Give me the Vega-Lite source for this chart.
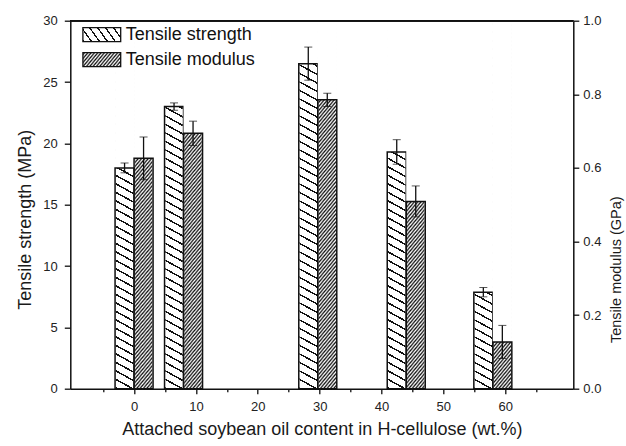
{
  "$schema": "https://vega.github.io/schema/vega-lite/v6.json",
  "width": 503,
  "height": 368,
  "autosize": {"type": "none"},
  "padding": {"left": 70.3, "top": 20.7, "right": 52.7, "bottom": 57.3},
  "background": "white",
  "config": {
    "view": {"stroke": null},
    "font": "Liberation Sans",
    "axis": {
      "grid": false,
      "zindex": 1,
      "domainColor": "#111",
      "domainWidth": 1.5,
      "tickColor": "#111",
      "tickWidth": 1.3,
      "labelFont": "Liberation Sans",
      "labelFontSize": 13,
      "labelColor": "#222",
      "labelOverlap": false,
      "labelBound": false,
      "titleFont": "Liberation Sans",
      "titleFontWeight": "normal",
      "titleColor": "#1a1a1a"
    }
  },
  "data": {
    "values": [
      {"oil": 0, "ts": 18.0, "tsErr": 0.4, "tm": 0.626, "tmErr": 0.058},
      {"oil": 8, "ts": 23.0, "tsErr": 0.3, "tm": 0.694, "tmErr": 0.033},
      {"oil": 29.7, "ts": 26.5, "tsErr": 1.35, "tm": 0.785, "tmErr": 0.018},
      {"oil": 44, "ts": 19.3, "tsErr": 1.0, "tm": 0.509, "tmErr": 0.042},
      {"oil": 58, "ts": 7.87, "tsErr": 0.38, "tm": 0.127, "tmErr": 0.045}
    ]
  },
  "layer": [
    {
      "encoding": {
        "x": {
          "field": "oil", "type": "quantitative",
          "scale": {"domain": [-9.5, 70.2], "nice": false, "zero": false},
          "axis": {
            "values": [-5, 0, 5, 10, 15, 20, 25, 30, 35, 40, 45, 50, 55, 60, 65],
            "labelExpr": "datum.value % 10 === 0 ? datum.label : ''",
            "tickSize": {"condition": {"test": "datum.value % 10 !== 0", "value": 3}, "value": 5},
            "labelPadding": 7,
            "title": "Attached soybean oil content in H-cellulose (wt.%)",
            "titleFontSize": 18,
            "titlePadding": 7
          }
        }
      },
      "layer": [
        {
          "mark": {"type": "bar", "width": 17.5, "xOffset": -9.5, "stroke": null,
            "fill": {"gradient": "linear", "x1": 0, "y1": 1, "x2": 0.030186, "y2": -0.154111, "stops": [
              {"offset":0,"color":"#111"},{"offset":0.004,"color":"#111"},{"offset":0.004,"color":"#fff"},{"offset":0.02,"color":"#fff"},
              {"offset":0.02,"color":"#111"},{"offset":0.024,"color":"#111"},{"offset":0.024,"color":"#fff"},{"offset":0.04,"color":"#fff"},
              {"offset":0.04,"color":"#111"},{"offset":0.044,"color":"#111"},{"offset":0.044,"color":"#fff"},{"offset":0.06,"color":"#fff"},
              {"offset":0.06,"color":"#111"},{"offset":0.064,"color":"#111"},{"offset":0.064,"color":"#fff"},{"offset":0.08,"color":"#fff"},
              {"offset":0.08,"color":"#111"},{"offset":0.084,"color":"#111"},{"offset":0.084,"color":"#fff"},{"offset":0.1,"color":"#fff"},
              {"offset":0.1,"color":"#111"},{"offset":0.104,"color":"#111"},{"offset":0.104,"color":"#fff"},{"offset":0.12,"color":"#fff"},
              {"offset":0.12,"color":"#111"},{"offset":0.124,"color":"#111"},{"offset":0.124,"color":"#fff"},{"offset":0.14,"color":"#fff"},
              {"offset":0.14,"color":"#111"},{"offset":0.144,"color":"#111"},{"offset":0.144,"color":"#fff"},{"offset":0.16,"color":"#fff"},
              {"offset":0.16,"color":"#111"},{"offset":0.164,"color":"#111"},{"offset":0.164,"color":"#fff"},{"offset":0.18,"color":"#fff"},
              {"offset":0.18,"color":"#111"},{"offset":0.184,"color":"#111"},{"offset":0.184,"color":"#fff"},{"offset":0.2,"color":"#fff"},
              {"offset":0.2,"color":"#111"},{"offset":0.204,"color":"#111"},{"offset":0.204,"color":"#fff"},{"offset":0.22,"color":"#fff"},
              {"offset":0.22,"color":"#111"},{"offset":0.224,"color":"#111"},{"offset":0.224,"color":"#fff"},{"offset":0.24,"color":"#fff"},
              {"offset":0.24,"color":"#111"},{"offset":0.244,"color":"#111"},{"offset":0.244,"color":"#fff"},{"offset":0.26,"color":"#fff"},
              {"offset":0.26,"color":"#111"},{"offset":0.264,"color":"#111"},{"offset":0.264,"color":"#fff"},{"offset":0.28,"color":"#fff"},
              {"offset":0.28,"color":"#111"},{"offset":0.284,"color":"#111"},{"offset":0.284,"color":"#fff"},{"offset":0.3,"color":"#fff"},
              {"offset":0.3,"color":"#111"},{"offset":0.304,"color":"#111"},{"offset":0.304,"color":"#fff"},{"offset":0.32,"color":"#fff"},
              {"offset":0.32,"color":"#111"},{"offset":0.324,"color":"#111"},{"offset":0.324,"color":"#fff"},{"offset":0.34,"color":"#fff"},
              {"offset":0.34,"color":"#111"},{"offset":0.344,"color":"#111"},{"offset":0.344,"color":"#fff"},{"offset":0.36,"color":"#fff"},
              {"offset":0.36,"color":"#111"},{"offset":0.364,"color":"#111"},{"offset":0.364,"color":"#fff"},{"offset":0.38,"color":"#fff"},
              {"offset":0.38,"color":"#111"},{"offset":0.384,"color":"#111"},{"offset":0.384,"color":"#fff"},{"offset":0.4,"color":"#fff"},
              {"offset":0.4,"color":"#111"},{"offset":0.404,"color":"#111"},{"offset":0.404,"color":"#fff"},{"offset":0.42,"color":"#fff"},
              {"offset":0.42,"color":"#111"},{"offset":0.424,"color":"#111"},{"offset":0.424,"color":"#fff"},{"offset":0.44,"color":"#fff"},
              {"offset":0.44,"color":"#111"},{"offset":0.444,"color":"#111"},{"offset":0.444,"color":"#fff"},{"offset":0.46,"color":"#fff"},
              {"offset":0.46,"color":"#111"},{"offset":0.464,"color":"#111"},{"offset":0.464,"color":"#fff"},{"offset":0.48,"color":"#fff"},
              {"offset":0.48,"color":"#111"},{"offset":0.484,"color":"#111"},{"offset":0.484,"color":"#fff"},{"offset":0.5,"color":"#fff"},
              {"offset":0.5,"color":"#111"},{"offset":0.504,"color":"#111"},{"offset":0.504,"color":"#fff"},{"offset":0.52,"color":"#fff"},
              {"offset":0.52,"color":"#111"},{"offset":0.524,"color":"#111"},{"offset":0.524,"color":"#fff"},{"offset":0.54,"color":"#fff"},
              {"offset":0.54,"color":"#111"},{"offset":0.544,"color":"#111"},{"offset":0.544,"color":"#fff"},{"offset":0.56,"color":"#fff"},
              {"offset":0.56,"color":"#111"},{"offset":0.564,"color":"#111"},{"offset":0.564,"color":"#fff"},{"offset":0.58,"color":"#fff"},
              {"offset":0.58,"color":"#111"},{"offset":0.584,"color":"#111"},{"offset":0.584,"color":"#fff"},{"offset":0.6,"color":"#fff"},
              {"offset":0.6,"color":"#111"},{"offset":0.604,"color":"#111"},{"offset":0.604,"color":"#fff"},{"offset":0.62,"color":"#fff"},
              {"offset":0.62,"color":"#111"},{"offset":0.624,"color":"#111"},{"offset":0.624,"color":"#fff"},{"offset":0.64,"color":"#fff"},
              {"offset":0.64,"color":"#111"},{"offset":0.644,"color":"#111"},{"offset":0.644,"color":"#fff"},{"offset":0.66,"color":"#fff"},
              {"offset":0.66,"color":"#111"},{"offset":0.664,"color":"#111"},{"offset":0.664,"color":"#fff"},{"offset":0.68,"color":"#fff"},
              {"offset":0.68,"color":"#111"},{"offset":0.684,"color":"#111"},{"offset":0.684,"color":"#fff"},{"offset":0.7,"color":"#fff"},
              {"offset":0.7,"color":"#111"},{"offset":0.704,"color":"#111"},{"offset":0.704,"color":"#fff"},{"offset":0.72,"color":"#fff"},
              {"offset":0.72,"color":"#111"},{"offset":0.724,"color":"#111"},{"offset":0.724,"color":"#fff"},{"offset":0.74,"color":"#fff"},
              {"offset":0.74,"color":"#111"},{"offset":0.744,"color":"#111"},{"offset":0.744,"color":"#fff"},{"offset":0.76,"color":"#fff"},
              {"offset":0.76,"color":"#111"},{"offset":0.764,"color":"#111"},{"offset":0.764,"color":"#fff"},{"offset":0.78,"color":"#fff"},
              {"offset":0.78,"color":"#111"},{"offset":0.784,"color":"#111"},{"offset":0.784,"color":"#fff"},{"offset":0.8,"color":"#fff"},
              {"offset":0.8,"color":"#111"},{"offset":0.804,"color":"#111"},{"offset":0.804,"color":"#fff"},{"offset":0.82,"color":"#fff"},
              {"offset":0.82,"color":"#111"},{"offset":0.824,"color":"#111"},{"offset":0.824,"color":"#fff"},{"offset":0.84,"color":"#fff"},
              {"offset":0.84,"color":"#111"},{"offset":0.844,"color":"#111"},{"offset":0.844,"color":"#fff"},{"offset":0.86,"color":"#fff"},
              {"offset":0.86,"color":"#111"},{"offset":0.864,"color":"#111"},{"offset":0.864,"color":"#fff"},{"offset":0.88,"color":"#fff"},
              {"offset":0.88,"color":"#111"},{"offset":0.884,"color":"#111"},{"offset":0.884,"color":"#fff"},{"offset":0.9,"color":"#fff"}
            ]}},
          "encoding": {
            "y": {"datum": 0, "type": "quantitative", "scale": {"domain": [0, 30], "nice": false},
              "axis": {
                "orient": "left",
                "values": [0, 2.5, 5, 7.5, 10, 12.5, 15, 17.5, 20, 22.5, 25, 27.5, 30],
                "labelExpr": "datum.value % 5 === 0 ? datum.label : ''",
                "tickSize": {"condition": {"test": "datum.value % 5 !== 0", "value": 3.5}, "value": 6},
                "labelPadding": 7,
                "title": "Tensile strength (MPa)",
                "titleFontSize": 18,
                "titleAngle": 270,
                "titleAlign": "center",
                "titleBaseline": "middle",
                "titleX": -45.3,
                "titleY": 198.5
              }},
            "y2": {"datum": 30}
          }
        },
        {
          "mark": {"type": "bar", "width": 19, "xOffset": -9.5, "fill": "white", "stroke": null},
          "encoding": {
            "y": {"field": "ts", "type": "quantitative", "title": "Tensile strength (MPa)"},
            "y2": {"datum": 30}
          }
        },
        {
          "mark": {"type": "bar", "width": 19, "xOffset": -9.5, "fill": "transparent", "strokeWidth": 1.5},
          "encoding": {
            "y": {"field": "ts", "type": "quantitative", "title": "Tensile strength (MPa)"},
            "stroke": {
              "datum": "Tensile strength", "type": "nominal",
              "scale": {"domain": ["Tensile strength", "Tensile modulus"], "range": ["#111", "#111"]},
              "legend": {
                "orient": "none",
                "legendX": 22.5,
                "legendY": 5,
                "zindex": 1,
                "title": null,
                "padding": 0,
                "symbolType": "M-2.7,-1H2.7V1H-2.7Z",
                "symbolSize": 196,
                "symbolStrokeWidth": 1.3,
                "labelFont": "Liberation Sans",
                "labelFontSize": 18,
                "labelColor": "#111",
                "labelOffset": 15,
                "rowPadding": 5,
                "encoding": {
                  "symbols": {
                    "fill": {
                      "condition": {
                        "test": "datum.value === 'Tensile strength'",
                        "value": {"gradient": "linear", "x1": 0, "y1": 1, "x2": 1.96888, "y2": 0.48187, "stops": [
                          {"offset":0,"color":"#111"},{"offset":0.02,"color":"#111"},{"offset":0.02,"color":"#fff"},{"offset":0.1,"color":"#fff"},
                          {"offset":0.1,"color":"#111"},{"offset":0.12,"color":"#111"},{"offset":0.12,"color":"#fff"},{"offset":0.2,"color":"#fff"},
                          {"offset":0.2,"color":"#111"},{"offset":0.22,"color":"#111"},{"offset":0.22,"color":"#fff"},{"offset":0.3,"color":"#fff"},
                          {"offset":0.3,"color":"#111"},{"offset":0.32,"color":"#111"},{"offset":0.32,"color":"#fff"},{"offset":0.4,"color":"#fff"},
                          {"offset":0.4,"color":"#111"},{"offset":0.42,"color":"#111"},{"offset":0.42,"color":"#fff"},{"offset":0.5,"color":"#fff"},
                          {"offset":0.5,"color":"#111"},{"offset":0.52,"color":"#111"},{"offset":0.52,"color":"#fff"},{"offset":0.6,"color":"#fff"}
                        ]}
                      },
                      "value": {"gradient": "linear", "x1": 0, "y1": 0, "x2": 1.60325, "y2": 0.49223, "stops": [
                        {"offset":0,"color":"#fff"},{"offset":0.025,"color":"#111"},{"offset":0.05,"color":"#fff"},{"offset":0.075,"color":"#111"},
                        {"offset":0.1,"color":"#fff"},{"offset":0.125,"color":"#111"},{"offset":0.15,"color":"#fff"},{"offset":0.175,"color":"#111"},
                        {"offset":0.2,"color":"#fff"},{"offset":0.225,"color":"#111"},{"offset":0.25,"color":"#fff"},{"offset":0.275,"color":"#111"},
                        {"offset":0.3,"color":"#fff"},{"offset":0.325,"color":"#111"},{"offset":0.35,"color":"#fff"},{"offset":0.375,"color":"#111"},
                        {"offset":0.4,"color":"#fff"},{"offset":0.425,"color":"#111"},{"offset":0.45,"color":"#fff"},{"offset":0.475,"color":"#111"},
                        {"offset":0.5,"color":"#fff"},{"offset":0.525,"color":"#111"},{"offset":0.55,"color":"#fff"},{"offset":0.575,"color":"#111"},
                        {"offset":0.6,"color":"#fff"},{"offset":0.625,"color":"#111"},{"offset":0.65,"color":"#fff"},{"offset":0.675,"color":"#111"},
                        {"offset":0.7,"color":"#fff"},{"offset":0.725,"color":"#111"},{"offset":0.75,"color":"#fff"}
                      ]}
                    }
                  }
                }
              }
            }
          }
        },
        {
          "mark": {"type": "errorbar",
            "ticks": {"xOffset": -9.5, "size": 8, "color": "#111", "strokeWidth": 1.3},
            "rule": {"xOffset": -9.5, "color": "#111", "strokeWidth": 1.3}},
          "encoding": {
            "y": {"field": "ts", "type": "quantitative", "title": "Tensile strength (MPa)"},
            "yError": {"field": "tsErr"}
          }
        }
      ]
    },
    {
      "layer": [
        {
          "encoding": {
            "x": {
              "field": "oil", "type": "quantitative",
              "scale": {"domain": [-9.5, 70.2], "nice": false, "zero": false},
              "axis": {
                "values": [-5, 0, 5, 10, 15, 20, 25, 30, 35, 40, 45, 50, 55, 60, 65],
                "labelExpr": "datum.value % 10 === 0 ? datum.label : ''",
                "tickSize": {"condition": {"test": "datum.value % 10 !== 0", "value": 3}, "value": 5},
                "labelPadding": 7,
                "title": "Attached soybean oil content in H-cellulose (wt.%)",
                "titleFontSize": 18,
                "titlePadding": 7
              }
            }
          },
          "layer": [
            {
              "mark": {"type": "bar", "width": 17.5, "xOffset": 9.5, "stroke": null,
                "fill": {"gradient": "linear", "x1": 0, "y1": 0, "x2": 0.061826, "y2": 1.083429, "stops": [
                  {"offset":0,"color":"#fff"},{"offset":0.005,"color":"#111"},{"offset":0.01,"color":"#fff"},{"offset":0.015,"color":"#111"},
                  {"offset":0.02,"color":"#fff"},{"offset":0.025,"color":"#111"},{"offset":0.03,"color":"#fff"},{"offset":0.035,"color":"#111"},
                  {"offset":0.04,"color":"#fff"},{"offset":0.045,"color":"#111"},{"offset":0.05,"color":"#fff"},{"offset":0.055,"color":"#111"},
                  {"offset":0.06,"color":"#fff"},{"offset":0.065,"color":"#111"},{"offset":0.07,"color":"#fff"},{"offset":0.075,"color":"#111"},
                  {"offset":0.08,"color":"#fff"},{"offset":0.085,"color":"#111"},{"offset":0.09,"color":"#fff"},{"offset":0.095,"color":"#111"},
                  {"offset":0.1,"color":"#fff"},{"offset":0.105,"color":"#111"},{"offset":0.11,"color":"#fff"},{"offset":0.115,"color":"#111"},
                  {"offset":0.12,"color":"#fff"},{"offset":0.125,"color":"#111"},{"offset":0.13,"color":"#fff"},{"offset":0.135,"color":"#111"},
                  {"offset":0.14,"color":"#fff"},{"offset":0.145,"color":"#111"},{"offset":0.15,"color":"#fff"},{"offset":0.155,"color":"#111"},
                  {"offset":0.16,"color":"#fff"},{"offset":0.165,"color":"#111"},{"offset":0.17,"color":"#fff"},{"offset":0.175,"color":"#111"},
                  {"offset":0.18,"color":"#fff"},{"offset":0.185,"color":"#111"},{"offset":0.19,"color":"#fff"},{"offset":0.195,"color":"#111"},
                  {"offset":0.2,"color":"#fff"},{"offset":0.205,"color":"#111"},{"offset":0.21,"color":"#fff"},{"offset":0.215,"color":"#111"},
                  {"offset":0.22,"color":"#fff"},{"offset":0.225,"color":"#111"},{"offset":0.23,"color":"#fff"},{"offset":0.235,"color":"#111"},
                  {"offset":0.24,"color":"#fff"},{"offset":0.245,"color":"#111"},{"offset":0.25,"color":"#fff"},{"offset":0.255,"color":"#111"},
                  {"offset":0.26,"color":"#fff"},{"offset":0.265,"color":"#111"},{"offset":0.27,"color":"#fff"},{"offset":0.275,"color":"#111"},
                  {"offset":0.28,"color":"#fff"},{"offset":0.285,"color":"#111"},{"offset":0.29,"color":"#fff"},{"offset":0.295,"color":"#111"},
                  {"offset":0.3,"color":"#fff"},{"offset":0.305,"color":"#111"},{"offset":0.31,"color":"#fff"},{"offset":0.315,"color":"#111"},
                  {"offset":0.32,"color":"#fff"},{"offset":0.325,"color":"#111"},{"offset":0.33,"color":"#fff"},{"offset":0.335,"color":"#111"},
                  {"offset":0.34,"color":"#fff"},{"offset":0.345,"color":"#111"},{"offset":0.35,"color":"#fff"},{"offset":0.355,"color":"#111"},
                  {"offset":0.36,"color":"#fff"},{"offset":0.365,"color":"#111"},{"offset":0.37,"color":"#fff"},{"offset":0.375,"color":"#111"},
                  {"offset":0.38,"color":"#fff"},{"offset":0.385,"color":"#111"},{"offset":0.39,"color":"#fff"},{"offset":0.395,"color":"#111"},
                  {"offset":0.4,"color":"#fff"},{"offset":0.405,"color":"#111"},{"offset":0.41,"color":"#fff"},{"offset":0.415,"color":"#111"},
                  {"offset":0.42,"color":"#fff"},{"offset":0.425,"color":"#111"},{"offset":0.43,"color":"#fff"},{"offset":0.435,"color":"#111"},
                  {"offset":0.44,"color":"#fff"},{"offset":0.445,"color":"#111"},{"offset":0.45,"color":"#fff"},{"offset":0.455,"color":"#111"},
                  {"offset":0.46,"color":"#fff"},{"offset":0.465,"color":"#111"},{"offset":0.47,"color":"#fff"},{"offset":0.475,"color":"#111"},
                  {"offset":0.48,"color":"#fff"},{"offset":0.485,"color":"#111"},{"offset":0.49,"color":"#fff"},{"offset":0.495,"color":"#111"},
                  {"offset":0.5,"color":"#fff"},{"offset":0.505,"color":"#111"},{"offset":0.51,"color":"#fff"},{"offset":0.515,"color":"#111"},
                  {"offset":0.52,"color":"#fff"},{"offset":0.525,"color":"#111"},{"offset":0.53,"color":"#fff"},{"offset":0.535,"color":"#111"},
                  {"offset":0.54,"color":"#fff"},{"offset":0.545,"color":"#111"},{"offset":0.55,"color":"#fff"},{"offset":0.555,"color":"#111"},
                  {"offset":0.56,"color":"#fff"},{"offset":0.565,"color":"#111"},{"offset":0.57,"color":"#fff"},{"offset":0.575,"color":"#111"},
                  {"offset":0.58,"color":"#fff"},{"offset":0.585,"color":"#111"},{"offset":0.59,"color":"#fff"},{"offset":0.595,"color":"#111"},
                  {"offset":0.6,"color":"#fff"},{"offset":0.605,"color":"#111"},{"offset":0.61,"color":"#fff"},{"offset":0.615,"color":"#111"},
                  {"offset":0.62,"color":"#fff"},{"offset":0.625,"color":"#111"},{"offset":0.63,"color":"#fff"},{"offset":0.635,"color":"#111"},
                  {"offset":0.64,"color":"#fff"},{"offset":0.645,"color":"#111"},{"offset":0.65,"color":"#fff"},{"offset":0.655,"color":"#111"},
                  {"offset":0.66,"color":"#fff"},{"offset":0.665,"color":"#111"},{"offset":0.67,"color":"#fff"},{"offset":0.675,"color":"#111"},
                  {"offset":0.68,"color":"#fff"},{"offset":0.685,"color":"#111"},{"offset":0.69,"color":"#fff"},{"offset":0.695,"color":"#111"},
                  {"offset":0.7,"color":"#fff"},{"offset":0.705,"color":"#111"},{"offset":0.71,"color":"#fff"},{"offset":0.715,"color":"#111"},
                  {"offset":0.72,"color":"#fff"},{"offset":0.725,"color":"#111"},{"offset":0.73,"color":"#fff"},{"offset":0.735,"color":"#111"},
                  {"offset":0.74,"color":"#fff"},{"offset":0.745,"color":"#111"},{"offset":0.75,"color":"#fff"},{"offset":0.755,"color":"#111"},
                  {"offset":0.76,"color":"#fff"},{"offset":0.765,"color":"#111"},{"offset":0.77,"color":"#fff"},{"offset":0.775,"color":"#111"},
                  {"offset":0.78,"color":"#fff"},{"offset":0.785,"color":"#111"},{"offset":0.79,"color":"#fff"},{"offset":0.795,"color":"#111"},
                  {"offset":0.8,"color":"#fff"},{"offset":0.805,"color":"#111"},{"offset":0.81,"color":"#fff"},{"offset":0.815,"color":"#111"},
                  {"offset":0.82,"color":"#fff"},{"offset":0.825,"color":"#111"},{"offset":0.83,"color":"#fff"},{"offset":0.835,"color":"#111"},
                  {"offset":0.84,"color":"#fff"},{"offset":0.845,"color":"#111"},{"offset":0.85,"color":"#fff"},{"offset":0.855,"color":"#111"},
                  {"offset":0.86,"color":"#fff"},{"offset":0.865,"color":"#111"},{"offset":0.87,"color":"#fff"},{"offset":0.875,"color":"#111"},
                  {"offset":0.88,"color":"#fff"},{"offset":0.885,"color":"#111"},{"offset":0.89,"color":"#fff"},{"offset":0.895,"color":"#111"},
                  {"offset":0.9,"color":"#fff"},{"offset":0.905,"color":"#111"},{"offset":0.91,"color":"#fff"},{"offset":0.915,"color":"#111"},
                  {"offset":0.92,"color":"#fff"},{"offset":0.925,"color":"#111"},{"offset":0.93,"color":"#fff"},{"offset":0.935,"color":"#111"},
                  {"offset":0.94,"color":"#fff"},{"offset":0.945,"color":"#111"},{"offset":0.95,"color":"#fff"},{"offset":0.955,"color":"#111"},
                  {"offset":0.96,"color":"#fff"},{"offset":0.965,"color":"#111"},{"offset":0.97,"color":"#fff"},{"offset":0.975,"color":"#111"},
                  {"offset":0.98,"color":"#fff"}
                ]}},
              "encoding": {
                "y": {"datum": 0, "type": "quantitative", "scale": {"domain": [0, 1], "nice": false},
                  "axis": {
                    "orient": "right",
                    "values": [0, 0.1, 0.2, 0.3, 0.4, 0.5, 0.6, 0.7, 0.8, 0.9, 1],
                    "format": ".1f",
                    "labelExpr": "round(datum.value * 10) % 2 === 0 ? datum.label : ''",
                    "tickSize": {"condition": {"test": "round(datum.value * 10) % 2 !== 0", "value": 3.5}, "value": 5.5},
                    "labelPadding": 4,
                    "title": "Tensile modulus (GPa)",
                    "titleFontSize": 14.5,
                    "titleAngle": 270,
                    "titleAlign": "center",
                    "titleBaseline": "middle",
                    "titleX": 43.4,
                    "titleY": 248.5
                  }},
                "y2": {"datum": 1}
              }
            },
            {
              "mark": {"type": "bar", "width": 19, "xOffset": 9.5, "fill": "white", "stroke": null},
              "encoding": {
                "y": {"field": "tm", "type": "quantitative", "title": "Tensile modulus (GPa)"},
                "y2": {"datum": 1}
              }
            },
            {
              "mark": {"type": "bar", "width": 19, "xOffset": 9.5, "fill": "transparent", "strokeWidth": 1.5},
              "encoding": {
                "y": {"field": "tm", "type": "quantitative", "title": "Tensile modulus (GPa)"},
                "stroke": {"datum": "Tensile modulus", "type": "nominal"}
              }
            },
            {
              "mark": {"type": "errorbar",
                "ticks": {"xOffset": 9.5, "size": 8, "color": "#111", "strokeWidth": 1.3},
                "rule": {"xOffset": 9.5, "color": "#111", "strokeWidth": 1.3}},
              "encoding": {
                "y": {"field": "tm", "type": "quantitative", "title": "Tensile modulus (GPa)"},
                "yError": {"field": "tmErr"}
              }
            }
          ]
        },
        {
          "mark": {"type": "rule", "color": "#111", "strokeWidth": 1.5},
          "encoding": {
            "y": {"datum": 1, "type": "quantitative"}
          }
        }
      ]
    }
  ],
  "resolve": {"scale": {"y": "independent"}}
}
